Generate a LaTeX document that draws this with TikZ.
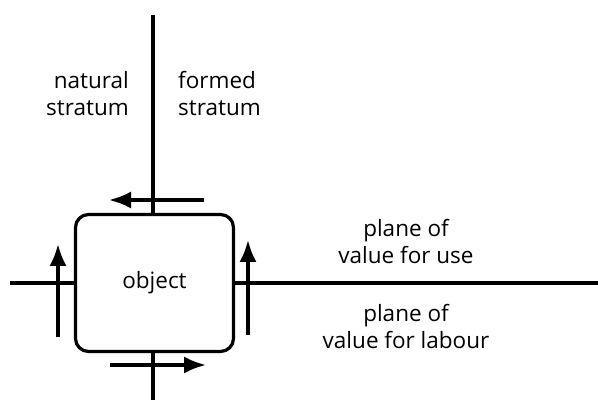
\documentclass[tikz,border=0pt]{standalone}
\usepackage{fontspec}
\setmainfont{Open Sans}
\usetikzlibrary{arrows.meta}
\tikzset{%
  axis line/.style={line width=3.2pt},
  flow/.style={line width=3.2pt, -{Latex[length=22pt,width=17pt]}},
  label text/.style={font=\fontsize{22.5}{26.5}\selectfont, inner sep=0pt},
  object box/.style={draw, line width=3.2pt, rounded corners=13pt,
    minimum width=158pt, minimum height=137pt, label text}
}

\begin{document}
\begin{tikzpicture}[x=1pt,y=1pt]
  \useasboundingbox (0,0) rectangle (598,401);

  \node[object box] (obj) at (154.5,118) {object};

  % the two axes, broken by the box
  \coordinate (top) at (153,386);
  \coordinate (bottom) at (153,1);
  \coordinate (left) at (10,118);
  \coordinate (right) at (598,118);
  \draw[axis line] (top) -- (top |- obj.north);
  \draw[axis line] (bottom |- obj.south) -- (bottom);
  \draw[axis line] (left) -- (obj.west);
  \draw[axis line] (obj.east) -- (right);

  % arrows round the object
  \coordinate (n1) at (204,201);
  \coordinate (n2) at (109,201);
  \coordinate (s1) at (110,36);
  \coordinate (s2) at (206,36);
  \coordinate (w1) at (58,64);
  \coordinate (w2) at (58,157);
  \coordinate (e1) at (248,66);
  \coordinate (e2) at (248,161);
  \draw[flow] (n1) -- (n2);
  \draw[flow] (s1) -- (s2);
  \draw[flow] (w1) -- (w2);
  \draw[flow] (e1) -- (e2);

  \node[label text, align=right, anchor=east] (natural) at (129,307.5) {natural\\stratum};
  \node[label text, align=left, anchor=west] (formed) at (178,307.5) {formed\\stratum};
  \node[label text, align=center] (use) at (406,159.5) {plane of\\value for use};
  \node[label text, align=center] (labour) at (406,74.5) {plane of\\value for labour};
\end{tikzpicture}
\end{document}
